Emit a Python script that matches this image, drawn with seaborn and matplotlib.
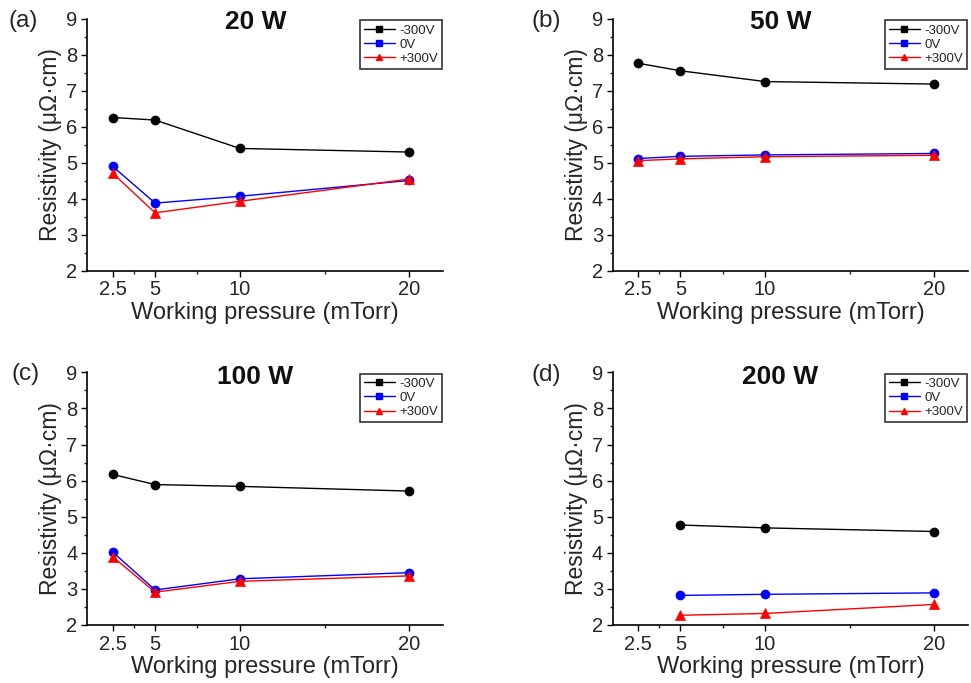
import numpy as np
import pandas as pd
import seaborn as sns
import matplotlib
matplotlib.use("Agg")
import matplotlib.pyplot as plt
from matplotlib.lines import Line2D
from matplotlib.ticker import FixedLocator, MultipleLocator

# ---- data ----
pressure = [2.5, 5, 10, 20]
pressure_200W = [5, 10, 20]
powers = ["20 W", "50 W", "100 W", "200 W"]
panel_labels = ["(a)", "(b)", "(c)", "(d)"]
biases = ["-300V", "0V", "+300V"]

r20_m300 = [6.26, 6.19, 5.40, 5.30]
r20_0 = [4.90, 3.88, 4.07, 4.51]
r20_p300 = [4.71, 3.61, 3.93, 4.55]

r50_m300 = [7.77, 7.56, 7.26, 7.19]
r50_0 = [5.12, 5.18, 5.22, 5.26]
r50_p300 = [5.06, 5.11, 5.17, 5.21]

r100_m300 = [6.17, 5.89, 5.84, 5.71]
r100_0 = [4.02, 2.97, 3.28, 3.45]
r100_p300 = [3.89, 2.91, 3.21, 3.36]

r200_m300 = [4.77, 4.69, 4.59]
r200_0 = [2.82, 2.85, 2.89]
r200_p300 = [2.27, 2.32, 2.57]

xticks = [2.5, 5, 10, 20]
xtick_labels = ["2.5", "5", "10", "20"]
xminor = [3.75, 7.5, 15]
yticks = [2, 3, 4, 5, 6, 7, 8, 9]

panel_data = {
    "20 W": (pressure, [r20_m300, r20_0, r20_p300]),
    "50 W": (pressure, [r50_m300, r50_0, r50_p300]),
    "100 W": (pressure, [r100_m300, r100_0, r100_p300]),
    "200 W": (pressure_200W, [r200_m300, r200_0, r200_p300]),
}

rows = []
for pw in powers:
    xs, series = panel_data[pw]
    for b, vals in zip(biases, series):
        for x, v in zip(xs, vals):
            rows.append({"power": pw, "bias": b, "pressure": x, "resistivity": v})
df = pd.DataFrame(rows)

# ---- style ----
sns.set_style("ticks")
plt.rcParams["font.family"] = ["Liberation Sans", "DejaVu Sans"]

palette = {"-300V": "black", "0V": "#0000FF", "+300V": "#FF0000"}
markers = {"-300V": "o", "0V": "o", "+300V": "^"}
legend_markers = {"-300V": "s", "0V": "s", "+300V": "^"}

fig = plt.figure(figsize=(9.71, 6.83), dpi=100)
W, H = 971, 683
positions = [
    (87.3, 19, 443.3, 270.7),
    (612.7, 19, 968.3, 270.7),
    (87.3, 372.3, 443.3, 625),
    (612.7, 372.3, 968.3, 625),
]
label_pos = [(22.7, 20.7), (546.7, 20.7), (25.7, 374), (546.7, 375)]
title_y = [0.99, 0.99, 0.981, 0.981]

tick_color = "#262626"

for i, pw in enumerate(powers):
    l, t, r, b = positions[i]
    ax = fig.add_axes([l / W, 1 - b / H, (r - l) / W, (b - t) / H])
    sub = df[df["power"] == pw]
    sns.lineplot(data=sub, x="pressure", y="resistivity", hue="bias", style="bias",
                 hue_order=biases, style_order=biases, palette=palette,
                 markers=markers, dashes=False, markersize=6.5, linewidth=1.0,
                 legend=False, ax=ax)
    for ln in ax.lines:
        ln.set_markeredgecolor(ln.get_color())
        ln.set_markeredgewidth(0.5)
    ax.set_xlim(1, 22)
    ax.set_ylim(2, 9)
    ax.set_xticks(xticks)
    ax.set_xticklabels(xtick_labels)
    ax.xaxis.set_minor_locator(FixedLocator(xminor))
    ax.set_yticks(yticks)
    ax.yaxis.set_minor_locator(MultipleLocator(0.5))
    ax.tick_params(axis="both", which="major", direction="out", length=4, width=1,
                   labelsize=14.5, colors="black", labelcolor=tick_color, pad=3)
    ax.tick_params(axis="both", which="minor", direction="out", length=2.5, width=1)
    sns.despine(ax=ax)
    for s in ["left", "bottom"]:
        ax.spines[s].set_linewidth(1.2)
        ax.spines[s].set_color("black")
    ax.set_xlabel("Working pressure (mTorr)", fontsize=17, color=tick_color, labelpad=2)
    ax.set_ylabel("Resistivity (μΩ·cm)", fontsize=16.5, color=tick_color, labelpad=3)
    ax.text(0.472, title_y[i], pw, transform=ax.transAxes, ha="center", va="center",
            fontsize=19, fontweight="bold", color="#111111")
    fig.text(label_pos[i][0] / W, 1 - label_pos[i][1] / H, panel_labels[i],
             ha="center", va="center", fontsize=17.5, color=tick_color)
    handles = [Line2D([0], [0], color=palette[bb], marker=legend_markers[bb],
                      markersize=5, linewidth=1.0) for bb in biases]
    leg = ax.legend(handles, biases, loc="upper right", bbox_to_anchor=(1.0, 1.0),
                    frameon=True, fancybox=False, fontsize=9.5, handlelength=2.4,
                    handletextpad=0.3, borderpad=0.3, labelspacing=0.15,
                    borderaxespad=0.1)
    leg.get_frame().set_edgecolor("black")
    leg.get_frame().set_linewidth(1.2)
    for txt in leg.get_texts():
        txt.set_color(tick_color)

fig.savefig("out.png", dpi=100)
